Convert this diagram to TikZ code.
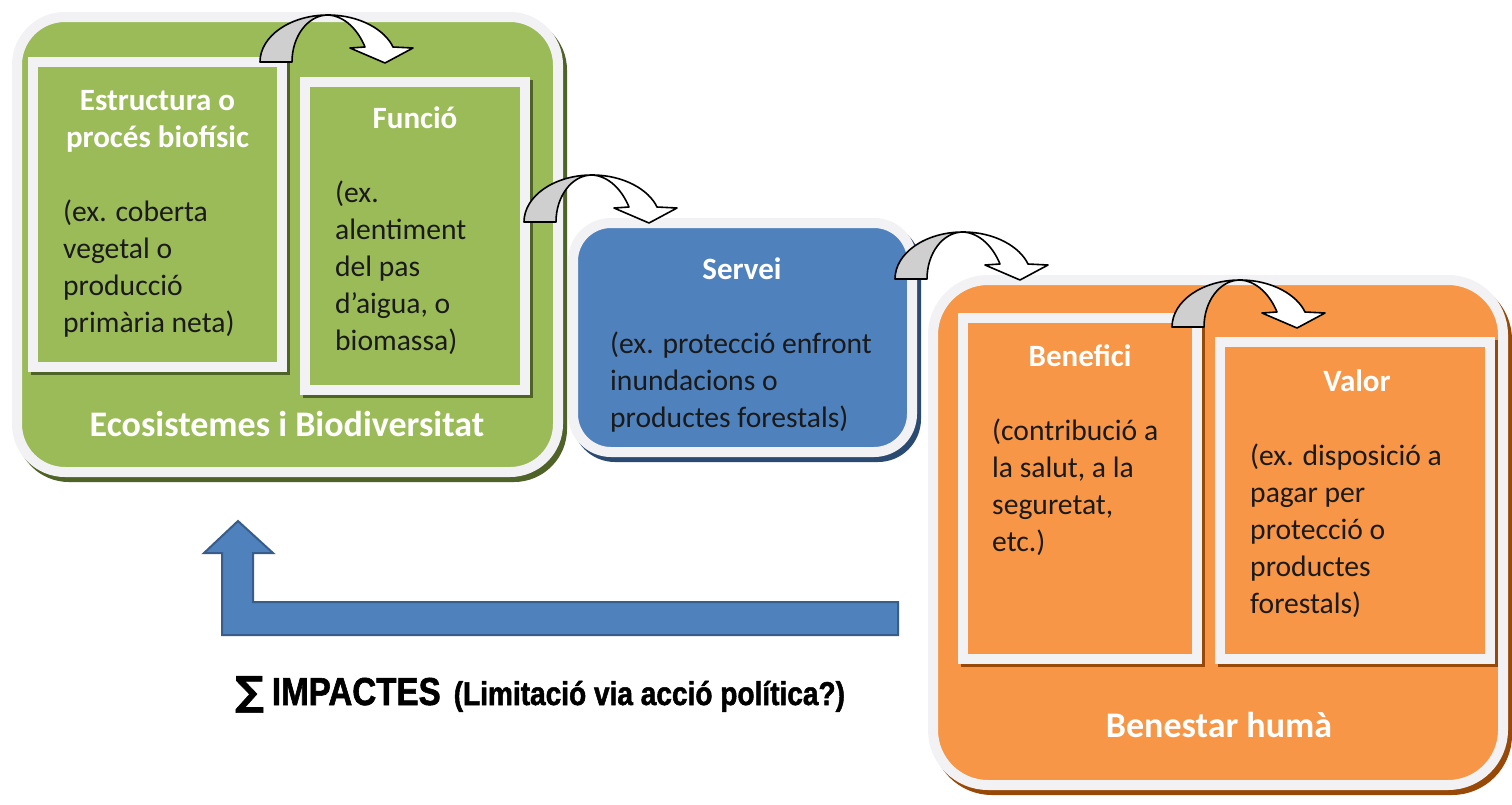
\documentclass[tikz,border=0pt]{standalone}
\usepackage{fontspec}
\setmainfont{Carlito}
\newfontfamily\impfont[FakeStretch=0.85,BoldFeatures={FakeBold=1.5}]{Liberation Sans}
\newfontfamily\symfont[BoldFeatures={FakeBold=1.5}]{DejaVu Sans}
\usetikzlibrary{calc}
\definecolor{grn}{HTML}{9BBB59}
\definecolor{grnsh}{HTML}{4F6228}
\definecolor{blu}{HTML}{4F81BD}
\definecolor{blush}{HTML}{2A4A72}
\definecolor{bludark}{HTML}{385D8A}
\definecolor{org}{HTML}{F79646}
\definecolor{orgsh}{HTML}{984807}
\definecolor{bord}{HTML}{F2F2F4}
\definecolor{txt}{HTML}{1A1A1A}
\definecolor{arrgray}{HTML}{CFCFCF}
\newcommand\tl[1]{\begin{tabular}[t]{@{}l@{}}#1\end{tabular}}
\newcommand\tc[1]{\begin{tabular}[t]{@{}c@{}}#1\end{tabular}}
\tikzset{
  bigbox/.style={line width=10pt, draw=bord, inner sep=0pt, outer sep=0pt,
    preaction={draw=#1, fill=#1, line width=10pt, transform canvas={xshift=4pt,yshift=-5pt}}},
  inbox/.style={line width=10pt, draw=bord, inner sep=0pt, outer sep=0pt,
    preaction={draw=#1, line width=10pt, transform canvas={xshift=3pt,yshift=-3pt}}},
  title/.style={font=\fontsize{31}{37}\selectfont\bfseries, text=white, inner sep=0pt, anchor=base},
  body/.style={font=\fontsize{29.6}{37}\selectfont, text=txt, inner sep=0pt, anchor=base west},
  bigtitle/.style={font=\fontsize{36}{40}\selectfont\bfseries, text=white, inner sep=0pt, anchor=base},
  arrline/.style={draw=black, line width=1.6pt, line join=round},
  curvarrow/.pic={
    \filldraw[arrline, fill=arrgray] (0,0) .. controls (0,-26) and (30.5,-47) .. (68,-47)
      .. controls (48,-47) and (32,-26) .. (32,0) -- cycle;
    \filldraw[arrline, fill=white] (68,-47) .. controls (100,-47) and (125,-32) .. (133,-15)
      -- (153,-14) -- (125,1) -- (90,-14) -- (105,-15)
      .. controls (98,-32) and (85,-46) .. (68,-47) -- cycle;
  }
}
\begin{document}
\begin{tikzpicture}[x=1pt,y=-1pt]
\fill[white] (0,0) rectangle (1512,804);
\useasboundingbox (0,0) rectangle (1512,804);

% green
\node[bigbox=grnsh, fill=grn, rounded corners=48pt, minimum width=541pt, minimum height=455pt] (eco) at (287.5,244.5) {};
\node[inbox=grnsh, fill=grn, minimum width=249pt, minimum height=305pt] (b1) at (157.5,214.5) {};
\node[inbox=grnsh, fill=grn, minimum width=220pt, minimum height=308pt] (b2) at (415,236) {};
% blue
\node[bigbox=blush, fill=blu, rounded corners=38pt, minimum width=339pt, minimum height=229pt] (srv) at (742.5,337.5) {};
% orange
\node[bigbox=orgsh, fill=org, rounded corners=55pt, minimum width=570pt, minimum height=505pt] (ben) at (1218,532.5) {};
\node[inbox=orgsh, fill=org, minimum width=234pt, minimum height=341pt] (bf) at (1080,488.5) {};
\node[inbox=orgsh, fill=org, minimum width=270pt, minimum height=317pt] (vl) at (1355,500.5) {};

% texts
\node[title] (t1) at (157.5,110) {\tc{Estructura o\\procés biofísic}};
\node[body] (x1) at (63,221) {\tl{(ex. coberta\\vegetal o\\producció\\primària neta)}};
\node[title] (t2) at (415,128) {Funció};
\node[body] (x2) at (335,202) {\tl{(ex.\\alentiment\\del pas\\d’aigua, o\\biomassa)}};
\node[bigtitle] (t3) at (287,436) {Ecosistemes i Biodiversitat};
\node[title] (t4) at (742,279) {Servei};
\node[body] (x4) at (610,353) {\tl{(ex. protecció enfront\\inundacions o\\productes forestals)}};
\node[title] (t5) at (1080,366) {Benefici};
\node[body] (x5) at (992,440) {\tl{(contribució a\\la salut, a la\\seguretat,\\etc.)}};
\node[title] (t6) at (1357,391) {Valor};
\node[body] (x6) at (1250,465) {\tl{(ex. disposició a\\pagar per\\protecció o\\productes\\forestals)}};
\node[bigtitle] (t7) at (1219,737) {Benestar humà};

% curved arrows
\coordinate (A1) at (260,62);
\coordinate (A3) at (524,222);
\coordinate (A2) at (895,279);
\coordinate (A4) at (1172,327);
\pic at (A1) {curvarrow};
\pic at (A3) {curvarrow};
\pic at (A2) {curvarrow};
\pic at (A4) {curvarrow};

% impacts arrow
\coordinate (Ltail) at (898,618);
\coordinate (Ltip) at (238,521);
\draw[fill=blu, draw=bludark, line width=2pt, line join=miter]
  ($(Ltail)+(0,-16)$) -- (253,602) -- (253,553) -- (273,553) -- (Ltip) -- (204,553) -- (222,553)
  -- (222,635) -- ($(Ltail)+(0,17)$) -- cycle;

\node[anchor=base west, inner sep=0pt, text=black] (imp) at (235,705)
  {{\symfont\bfseries\fontsize{40}{44}\selectfont ∑}\hspace{8pt}{\impfont\bfseries\fontsize{39}{44}\selectfont IMPACTES}\hspace{13pt}{\impfont\bfseries\fontsize{33}{36}\selectfont (Limitació via acció política?)}};
\end{tikzpicture}
\end{document}
